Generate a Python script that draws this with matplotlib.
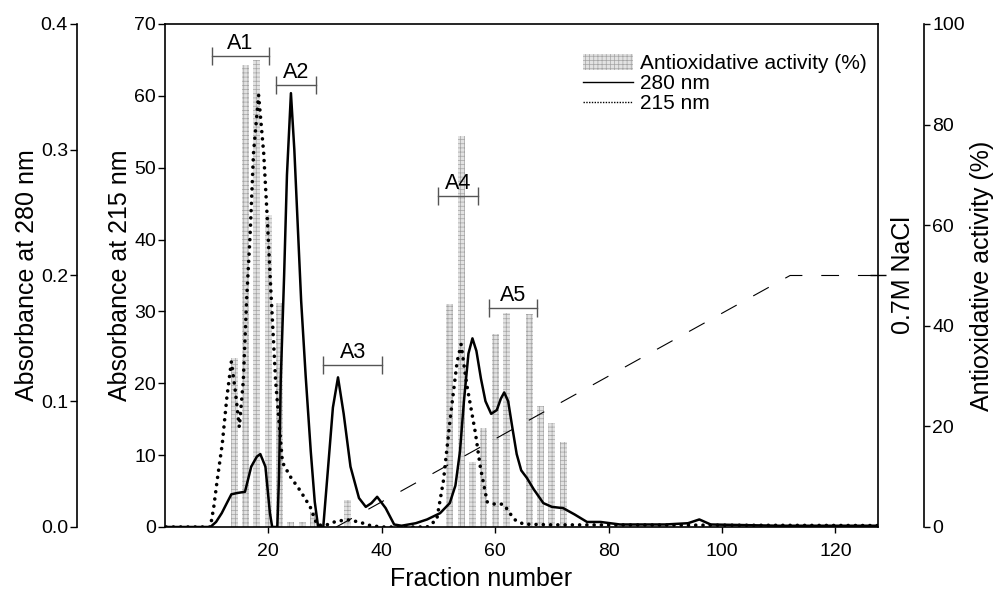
import matplotlib

matplotlib.use("Agg")
import matplotlib.pyplot as plt
from matplotlib.lines import Line2D
from matplotlib.patches import Patch

# --- data ---
frac_280 = [2, 6, 9.8, 10.8, 11.8, 12.7, 13.5, 14.5, 15.9, 17.0, 18.0, 18.6, 19.5, 20.3, 20.7,
            21.6, 21.9, 22.2, 22.8, 23.3, 24.0, 24.6, 25.2, 25.8, 26.6, 27.5, 28.2, 28.8,
            29.7, 30.6, 31.4, 32.3, 33.3, 34.5, 36.0, 37.2, 38.2, 39.2, 40.7, 42.2, 43.5,
            46, 48, 50.3, 52.0, 53.0, 53.8, 54.5, 55.3, 56.0, 56.7, 57.5, 58.3, 59.3, 60.3,
            61.0, 61.6, 62.3, 63.0, 63.8, 64.6, 65.6, 66.8, 68.5, 70, 72, 74, 76.2, 78.6, 82,
            90, 94, 96, 98, 110, 127.5]
a280 = [0, 0, 0, 0.004, 0.011, 0.019, 0.026, 0.027, 0.028, 0.048, 0.056, 0.058, 0.048, 0.011, 0.0,
        0.0, 0.04, 0.116, 0.2, 0.28, 0.345, 0.30, 0.24, 0.18, 0.12, 0.06, 0.02, 0.0,
        0.0, 0.05, 0.095, 0.119, 0.09, 0.048, 0.023, 0.016, 0.019, 0.024, 0.015, 0.002, 0.001,
        0.003, 0.006, 0.011, 0.019, 0.033, 0.06, 0.1, 0.138, 0.15, 0.14, 0.118, 0.1, 0.09, 0.093,
        0.102, 0.107, 0.1, 0.08, 0.058, 0.045, 0.039, 0.03, 0.019, 0.016, 0.015, 0.01, 0.004,
        0.004, 0.002, 0.002, 0.003, 0.006, 0.002, 0.001, 0.001]

frac_215 = [2, 6, 9.8, 10.4, 11.0, 11.9, 12.7, 13.5, 14.2, 14.9, 15.6, 16.2, 16.8, 17.4, 18.3,
            19.2, 19.8, 20.5, 21.3, 22.5, 23.9, 25.6, 27.4, 28.6, 30, 32, 34, 36, 38, 40, 48,
            49.7, 50.9, 52.1, 53.3, 54.0, 55.0, 56.5, 57.4, 58.6, 59.7, 61.0, 61.6, 62.5, 63.5,
            65, 70, 127.5]
a215 = [0, 0, 0, 2.8, 6.5, 11.6, 18, 23, 18.9, 13.9, 20.3, 31.8, 40.6, 52, 60.1,
        52, 43.4, 32.3, 20.3, 9.0, 7.0, 5.1, 2.8, 0.3, 0.2, 0.8, 1.0, 0.7, 0.2, 0, 0,
        1, 6.5, 15.2, 23, 25.4, 19.8, 13.2, 8.3, 3.5, 3.2, 3.2, 3.1, 2, 1,
        0.4, 0.3, 0.2]

bar_frac = [14, 16, 18, 20, 22, 24, 26, 28, 34, 52, 54, 56, 58, 60, 62, 66, 68, 70, 72]
activity = [33.5, 91.8, 92.8, 62, 44.5, 1, 1, 3, 5.3, 44.3, 77.7, 12.9, 19.7, 38.4, 42.5,
            42.3, 24, 20.7, 16.9]

nacl_frac = [32, 112, 127.5]
nacl_conc = [0.0, 0.7, 0.7]

peak_names = ["A1", "A2", "A3", "A4", "A5"]
peak_from = [10, 21.3, 29.7, 50, 59]
peak_to = [20.2, 28.4, 40.1, 57, 67.3]
peak_level = [65.5, 61.5, 22.6, 46.1, 30.5]  # in 215 nm units

plt.rcParams.update({
    "font.family": ["Liberation Sans", "DejaVu Sans"],
    "font.size": 14,
    "hatch.linewidth": 0.5,
    "axes.linewidth": 1.2,
})

TICK = 14
LABEL = 18

fig = plt.figure(figsize=(9.94, 5.91), dpi=100, facecolor="white")
ax = fig.add_axes([0.166, 0.1083, 0.7173, 0.8511])
ax_act = ax.twinx()
ax280 = ax.twinx()
ax_nacl = ax.twinx()

ax_act.set_zorder(0)
ax.set_zorder(1)
ax280.set_zorder(2)
ax_nacl.set_zorder(3)
ax.patch.set_visible(False)

# bars: antioxidative activity on the far right scale
bar_style = dict(facecolor="#e2e2e2", edgecolor="#a4a4a4", hatch="++++", linewidth=0)
ax_act.bar(bar_frac, activity, width=1.25, **bar_style)
ax_act.set_ylim(0, 100)
ax_act.set_yticks(range(0, 101, 20))
for s in ["left", "top", "bottom"]:
    ax_act.spines[s].set_visible(False)
ax_act.spines["right"].set_position(("axes", 1.0645))
ax_act.tick_params(axis="y", direction="out", length=4.5, width=1, labelsize=TICK, pad=1.5)
ax_act.set_ylabel("Antioxidative activity (%)", fontsize=LABEL, va="center")
ax_act.yaxis.set_label_coords(1.146, 0.5)

# 215 nm on the host axis
ax.plot(frac_215, a215, color="black", lw=2.6, linestyle=(0, (0.01, 2.0)),
        dash_capstyle="round")
ax.set_xlim(1.8, 127.5)
ax.set_ylim(0, 70)
ax.set_yticks(range(0, 71, 10))
ax.set_xticks(range(20, 121, 20))
ax.spines["right"].set_visible(False)
ax.spines["top"].set_visible(True)
ax.tick_params(axis="y", direction="out", length=5, width=1, labelsize=TICK, pad=1.5)
ax.tick_params(axis="x", direction="out", length=4.5, width=1, labelsize=TICK, pad=7)
ax.set_ylabel("Absorbance at 215 nm", fontsize=LABEL, va="center")
ax.yaxis.set_label_coords(-0.063, 0.5)
ax.set_xlabel("Fraction number", fontsize=LABEL, va="center")
ax.xaxis.set_label_coords(0.443, -0.1034)

# 280 nm on the detached left axis
ax280.plot(frac_280, a280, color="black", lw=1.8)
ax280.set_ylim(0, 0.4)
ax280.set_yticks([0.0, 0.1, 0.2, 0.3, 0.4])
ax280.set_yticklabels(["0.0", "0.1", "0.2", "0.3", "0.4"])
ax280.yaxis.set_ticks_position("left")
ax280.yaxis.set_label_position("left")
for s in ["right", "top", "bottom"]:
    ax280.spines[s].set_visible(False)
ax280.spines["left"].set_visible(True)
ax280.spines["left"].set_position(("axes", -0.1234))
ax280.tick_params(axis="y", direction="out", length=5, width=1, labelsize=TICK, pad=1.5)
ax280.set_ylabel("Absorbance at 280 nm", fontsize=LABEL, va="center")
ax280.yaxis.set_label_coords(-0.1935, 0.5)

# NaCl gradient
ax_nacl.plot(nacl_frac, nacl_conc, color="black", lw=0.8, linestyle=(0, (16, 17)))
ax_nacl.set_ylim(0, 1.4)
ax_nacl.set_yticks([0.7])
ax_nacl.set_yticklabels([""])
for s in ["left", "top", "bottom"]:
    ax_nacl.spines[s].set_visible(False)
ax_nacl.tick_params(axis="y", direction="inout", length=12, width=1)
ax_nacl.set_ylabel("0.7M NaCl", fontsize=LABEL, va="center")
ax_nacl.yaxis.set_label_coords(1.035, 0.5)

# peak brackets
for name, a, b, lvl in zip(peak_names, peak_from, peak_to, peak_level):
    ax.plot([a, b], [lvl, lvl], color="#555555", lw=1.0)
    ax.plot([a, b], [lvl, lvl], linestyle="none", marker="|", markersize=13,
            markeredgewidth=1.0, color="#555555")
    ax.annotate(name, ((a + b) / 2, lvl), xytext=(0, 1.5), textcoords="offset points",
                ha="center", va="bottom", fontsize=15.5)

handles = [
    Patch(**bar_style),
    Line2D([], [], color="black", lw=1.0),
    Line2D([], [], color="black", lw=1.0, linestyle=(0, (1, 1))),
]
labels = ["Antioxidative activity (%)", "280 nm", "215 nm"]
ax_nacl.legend(handles, labels, loc="upper right", bbox_to_anchor=(0.984, 0.94), frameon=False,
               fontsize=15, handlelength=2.4, handleheight=0.75, labelspacing=0.05,
               handletextpad=0.35, borderaxespad=0, borderpad=0)

fig.savefig("out.png", dpi=100, facecolor="white")
